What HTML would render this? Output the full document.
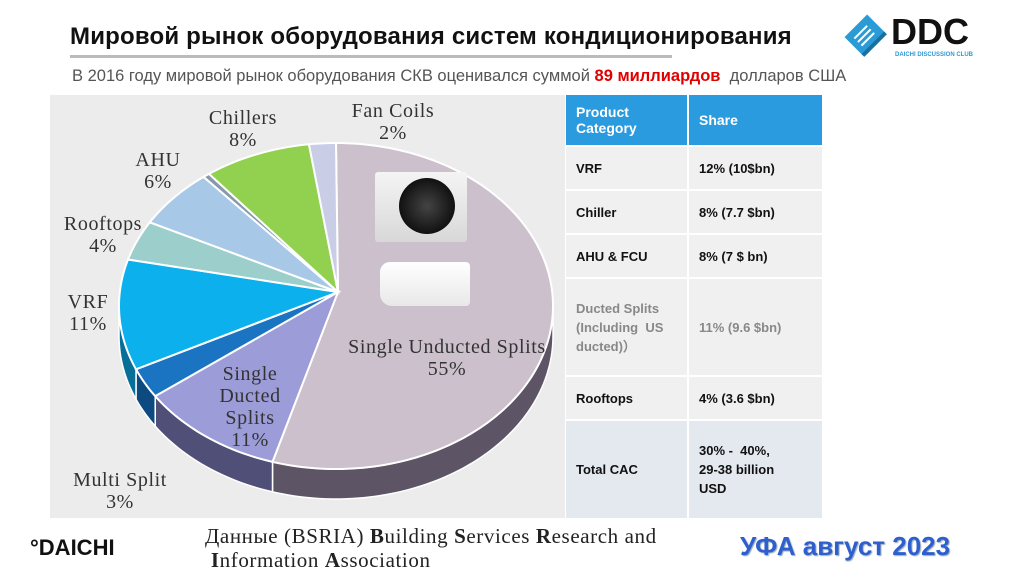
<!DOCTYPE html>
<html><head><meta charset="utf-8">
<style>
body{margin:0;width:1024px;height:574px;background:#fff;position:relative;overflow:hidden;font-family:"Liberation Sans",sans-serif}
.abs{position:absolute}
#title{left:70px;top:23px;font-size:24px;font-weight:bold;color:#111;letter-spacing:0.2px;white-space:nowrap}
#uline{left:70px;top:55px;width:602px;height:3px;background:#bbb}
#sub{left:72px;top:67px;font-size:16.5px;color:#555;white-space:nowrap}
#sub b{color:#e00000}
table{border-collapse:separate;border-spacing:2px;font-family:"Liberation Sans",sans-serif;font-size:13px;font-weight:bold;color:#111}
td{background:#f0f0f0;padding:0 0 0 10px;vertical-align:middle}
th{background:#2b9be0;color:#fff;text-align:left;font-weight:bold;padding:0 0 0 10px}
.gray{color:#888}
.tot td{background:#e4e8ef}
.serif{font-family:"Liberation Serif",serif}
</style></head><body>
<div class="abs" id="title">Мировой рынок оборудования систем кондиционирования</div>
<div class="abs" id="uline"></div>
<div class="abs" id="sub">В 2016 году мировой рынок оборудования СКВ оценивался суммой <b>89 миллиардов</b> &nbsp;долларов США</div>
<div class="abs" style="left:843px;top:10px;width:150px;height:50px">
<svg width="150" height="55"><g transform="rotate(-45 22 25)"><rect x="6" y="12" width="32" height="26" fill="#2b9bd6"/><rect x="6" y="36" width="32" height="4" fill="#1a6fa0"/><line x1="12" y1="20" x2="30" y2="20" stroke="#fff" stroke-width="2"/><line x1="12" y1="25" x2="30" y2="25" stroke="#fff" stroke-width="2"/><line x1="12" y1="30" x2="30" y2="30" stroke="#fff" stroke-width="2"/></g>
<text x="48" y="34" font-family="Liberation Sans" font-weight="bold" font-size="36" fill="#111">DDC</text>
<text x="52" y="46" font-family="Liberation Sans" font-weight="bold" font-size="6" fill="#2b9bd6">DAICHI DISCUSSION CLUB</text></svg></div>

<div class="abs" style="left:50px;top:95px;width:515px;height:423px;background:#ececec"></div>
<svg class="abs" style="left:0;top:0" width="1024" height="574" id="pie"></svg>

<div class="abs" style="left:375px;top:172px;width:92px;height:70px;background:linear-gradient(#f4f4f4,#d8d8d8);border-radius:3px">
<div style="position:absolute;left:24px;top:6px;width:56px;height:56px;border-radius:50%;background:radial-gradient(#444,#111 70%)"></div></div>
<div class="abs" style="left:380px;top:262px;width:90px;height:44px;background:linear-gradient(#fff,#e8e8e8);border-radius:10px 4px 4px 12px"></div>

<div class="abs" style="left:564px;top:93px">
<table>
<tr style="height:50px"><th style="width:111px;font-size:14px">Product<br>Category</th><th style="width:123px;font-size:14px">Share</th></tr>
<tr style="height:42px"><td>VRF</td><td>12% (10$bn)</td></tr>
<tr style="height:42px"><td>Chiller</td><td>8% (7.7 $bn)</td></tr>
<tr style="height:42px"><td>AHU &amp; FCU</td><td>8% (7 $ bn)</td></tr>
<tr style="height:96px"><td class="gray" style="line-height:19px">Ducted Splits (Including &nbsp;US ducted)）</td><td class="gray">11% (9.6 $bn)</td></tr>
<tr style="height:42px"><td>Rooftops</td><td>4% (3.6 $bn)</td></tr>
<tr style="height:97px" class="tot"><td>Total CAC</td><td style="line-height:19px">30% - &nbsp;40%,<br>29-38 billion<br>USD</td></tr>
</table></div>

<div class="abs" style="left:30px;top:535px;font-size:22px;font-weight:bold;color:#111">°DAICHI</div>
<div class="abs serif" style="left:205px;top:524px;font-size:21px;line-height:24px;color:#222;letter-spacing:0.6px;white-space:nowrap">Данные (BSRIA) <b>B</b>uilding <b>S</b>ervices <b>R</b>esearch and<br>&nbsp;<b>I</b>nformation <b>A</b>ssociation</div>
<div class="abs" style="left:740px;top:531px;font-size:26px;font-weight:bold;color:#2e5fcf;text-shadow:1px 1px 1px #9ab">УФА август 2023</div>

<script>
const categories=["Single Unducted Splits","Single Ducted Splits","Multi Split","VRF","Rooftops","AHU","Other","Chillers","Fan Coils"];
const shares=[55,11,3,11,4,6,0.5,8,2];
const pctLabels=["55%","11%","3%","11%","4%","6%","","8%","2%"];
const colors=["#cbc0cc","#9c9cd8","#1a74c2","#0bb0ec","#9ccfcb","#a8c8e8","#8899aa","#92d050","#c9cde6"];
const sides=["#5d5566","#4f4f78","#0d4a80","#086f98","#5a8886","#607890","#445","#5a8a30","#778"];
const svg=document.getElementById('pie');
const NS="http://www.w3.org/2000/svg";
const cx=336,cy=306,rx=217,ry=163,ax=338,ay=292,depth=30;
const total=shares.reduce((a,b)=>a+b,0);
function pt(t,d){return [cx+rx*Math.sin(t),cy-ry*Math.cos(t)+(d||0)];}
function arcPts(a0,a1,d){const p=[];const n=Math.max(2,Math.ceil((a1-a0)*40));for(let i=0;i<=n;i++)p.push(pt(a0+(a1-a0)*i/n,d));return p;}
let acc=0;const angs=shares.map(s=>{const a0=acc/total*2*Math.PI;acc+=s;return [a0,acc/total*2*Math.PI];});
angs.forEach((a,i)=>{
  const s0=Math.max(a[0],Math.PI/2),s1=Math.min(a[1],Math.PI*1.5);
  if(s1<=s0)return;
  const top=arcPts(s0,s1,0),bot=arcPts(s0,s1,depth).reverse();
  const p=document.createElementNS(NS,'path');
  p.setAttribute('d','M'+top.concat(bot).map(q=>q.join(',')).join('L')+'Z');
  p.setAttribute('fill',sides[i]);p.setAttribute('stroke','#fff');p.setAttribute('stroke-width','1.5');
  
  
  svg.appendChild(p);
});
angs.forEach((a,i)=>{
  const pts=arcPts(a[0],a[1],0);
  const p=document.createElementNS(NS,'path');
  p.setAttribute('d','M'+ax+','+ay+'L'+pts.map(q=>q.join(',')).join('L')+'Z');
  p.setAttribute('fill',colors[i]);p.setAttribute('stroke','#fff');p.setAttribute('stroke-width','2');
  
  
  svg.appendChild(p);
});
const labelLines=[["Single Unducted Splits","55%"],["Single","Ducted","Splits","11%"],["Multi Split","3%"],["VRF","11%"],["Rooftops","4%"],["AHU","6%"],[],["Chillers","8%"],["Fan Coils","2%"]];
const labelPos=[[447,353],[250,380],[120,486],[88,308],[103,230],[158,166],[0,0],[243,124],[393,117]];
labelLines.forEach((lines,i)=>{lines.forEach((l,j)=>{
  const t=document.createElementNS(NS,'text');
  t.setAttribute('x',labelPos[i][0]);t.setAttribute('y',labelPos[i][1]+j*22);
  t.setAttribute('text-anchor','middle');t.setAttribute('font-family','Liberation Serif, serif');
  t.setAttribute('font-size','20');t.setAttribute('letter-spacing','0.6');t.setAttribute('fill','#333');
  
  
  t.textContent=l;svg.appendChild(t);});});
</script>
</body></html>
